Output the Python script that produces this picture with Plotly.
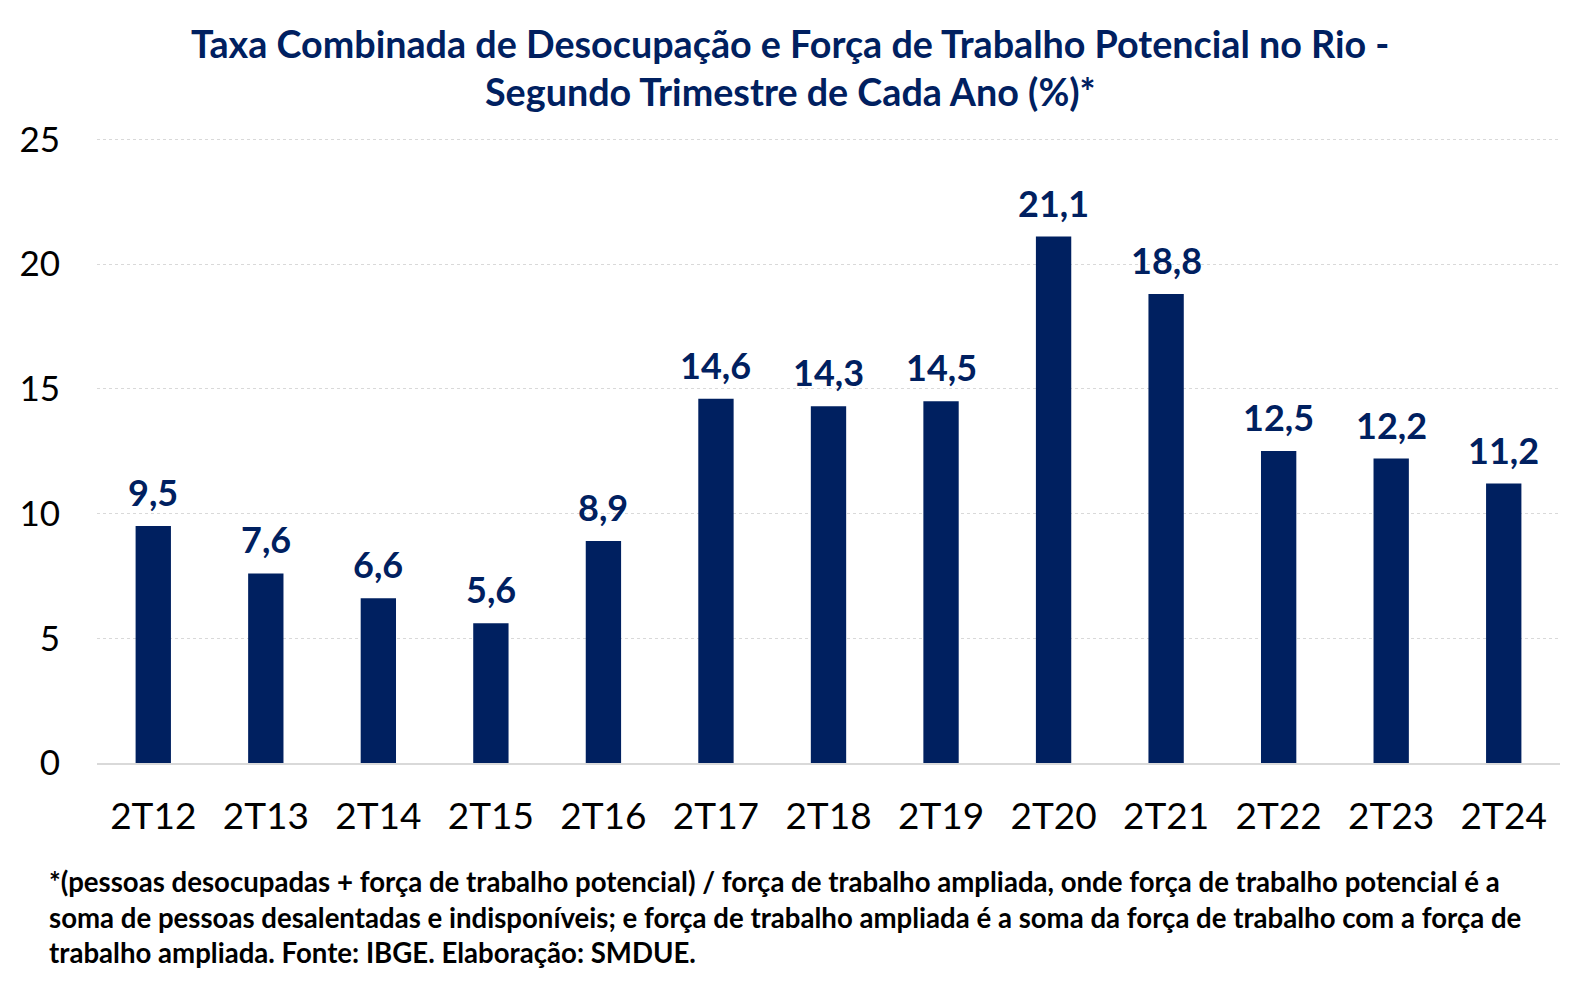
import plotly.graph_objects as go

categories = ["2T12", "2T13", "2T14", "2T15", "2T16", "2T17", "2T18", "2T19",
              "2T20", "2T21", "2T22", "2T23", "2T24"]
values = [9.5, 7.6, 6.6, 5.6, 8.9, 14.6, 14.3, 14.5, 21.1, 18.8, 12.5, 12.2, 11.2]
y_ticks = [0, 5, 10, 15, 20, 25]

title_lines = ["Taxa Combinada de Desocupação e Força de Trabalho Potencial no Rio -",
               "Segundo Trimestre de Cada Ano (%)*"]
footnote_lines = [
    "*(pessoas desocupadas + força de trabalho potencial) / força de trabalho ampliada, onde força de trabalho potencial é a",
    "soma de pessoas desalentadas e indisponíveis; e força de trabalho ampliada é a soma da força de trabalho com a força de",
    "trabalho ampliada. Fonte: IBGE. Elaboração: SMDUE.",
]

NAVY = "#002060"
W, H = 1579, 983
OFF = 8  # page body margin offset
L, R, T, B = 97 - OFF, 19 + OFF, 138 - OFF, 220 + OFF
PH = H - T - B
PW = W - L - R


def py(screen_px):
    return 1 + (T - (screen_px - OFF)) / PH


def px_x(screen_px):
    return ((screen_px - OFF) - L) / PW


fig = go.Figure(go.Bar(
    x=categories, y=values,
    marker=dict(color=NAVY, line=dict(width=0)),
    hoverinfo="x+y",
))

for c, v in zip(categories, values):
    fig.add_annotation(x=c, y=v, xref="x", yref="y", text=f"{v:.1f}".replace(".", ","),
                       showarrow=False, yanchor="bottom", yshift=10,
                       font=dict(family="Lato", size=36, color=NAVY, weight="bold"))

for line, ypx in zip(title_lines, [44, 91]):
    fig.add_annotation(text=line, xref="paper", yref="paper", x=px_x(790), y=py(ypx),
                       xanchor="center", yanchor="middle", showarrow=False,
                       font=dict(family="Lato", size=37.7, color=NAVY, weight="bold"))

for line, ypx in zip(footnote_lines, [882, 917, 952]):
    fig.add_annotation(text=line, xref="paper", yref="paper", x=px_x(47), y=py(ypx),
                       xanchor="left", yanchor="middle", align="left", showarrow=False,
                       font=dict(family="Lato", size=27.6, color="black", weight="bold"))

fig.update_layout(
    width=W, height=H,
    margin=dict(l=L, r=R, t=T, b=B),
    paper_bgcolor="white", plot_bgcolor="white",
    bargap=0.686,
    showlegend=False,
    xaxis=dict(showgrid=False, showline=True, linecolor="#d9d9d9", linewidth=2,
               ticks="", tickfont=dict(family="Lato", size=37, color="black"),
               ticklabelstandoff=20, automargin=False),
    yaxis=dict(range=[0, 25.05], tickvals=y_ticks, showgrid=True, gridcolor="#d9d9d9",
               griddash="dot", gridwidth=1, zeroline=False, showline=False,
               tickfont=dict(family="Lato", size=35, color="black"),
               ticklabelstandoff=36, automargin=False),
)

fig.write_html("out.html")
